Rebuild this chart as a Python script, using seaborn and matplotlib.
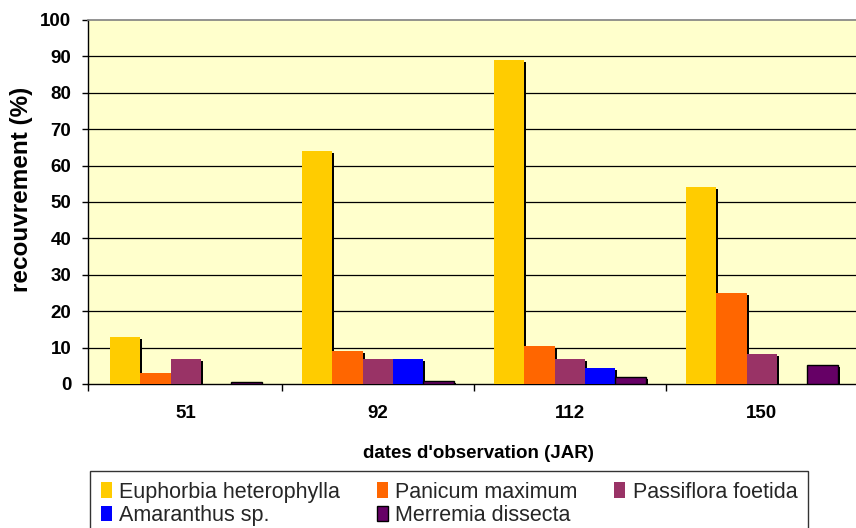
import matplotlib
matplotlib.use("Agg")
import matplotlib.pyplot as plt
from matplotlib.patches import Rectangle, Patch
from matplotlib.transforms import offset_copy
from matplotlib.ticker import FixedLocator, MultipleLocator
import pandas as pd
import seaborn as sns

# Observation dates (days after sowing) and weed cover per species (%)
dates = ["51", "92", "112", "150"]
species = ["Euphorbia heterophylla", "Panicum maximum", "Passiflora foetida",
           "Amaranthus sp.", "Merremia dissecta"]
euphorbia = [13, 64, 89, 54]
panicum = [3, 9, 10.5, 25]
passiflora = [7, 6.8, 6.9, 8.2]
amaranthus = [0, 7, 4.5, 0]
merremia = [0.5, 0.7, 1.8, 5.1]
colors = ["#FFCC00", "#FF6600", "#993366", "#0000FF", "#660066"]

series = [euphorbia, panicum, passiflora, amaranthus, merremia]
df = pd.DataFrame({
    "date": [d for s in series for d in dates],
    "cover": [v for s in series for v in s],
    "species": [sp for sp, s in zip(species, series) for _ in s],
})

sns.set_theme(style="white")
plt.rcParams["font.family"] = ["Liberation Sans", "DejaVu Sans"]

fig = plt.figure(figsize=(8.56, 5.28), dpi=100)
ax = fig.add_axes([88 / 856, 1 - 384 / 528, 768 / 856, 364 / 528])
ax.set_facecolor("#FFFFCC")

sns.barplot(data=df, x="date", y="cover", hue="species", order=dates,
            hue_order=species, palette=dict(zip(species, colors)),
            saturation=1, width=0.79, errorbar=None, legend=False,
            linewidth=0, ax=ax, zorder=3)

# dark outline on the last series
for bar in ax.containers[4]:
    bar.set_edgecolor("black")
    bar.set_linewidth(1.0)

# drop shadows behind every bar
shadow_tr = offset_copy(ax.transData, fig=fig, x=2, y=-2, units="dots")
for cont in ax.containers:
    for bar in cont:
        if bar.get_height() > 0:
            ax.add_patch(Rectangle((bar.get_x(), bar.get_y()), bar.get_width(),
                                   bar.get_height(), facecolor="black",
                                   edgecolor="none", transform=shadow_tr,
                                   zorder=2.5))

ax.set_xlim(-0.51, 3.49)
ax.set_ylim(0, 100)
ax.yaxis.set_major_locator(MultipleLocator(10))
for y in range(10, 100, 10):
    ax.axhline(y, color="black", linewidth=0.9, zorder=1)

# spines
ax.spines["left"].set_color("black")
ax.spines["left"].set_linewidth(1.0)
ax.spines["bottom"].set_color("black")
ax.spines["bottom"].set_linewidth(1.0)
ax.spines["top"].set_color("#808080")
ax.spines["top"].set_linewidth(1.2)
ax.spines["right"].set_visible(False)

# ticks: labels at group centres, tick marks at group boundaries
ax.xaxis.set_minor_locator(FixedLocator([-0.51, 0.5, 1.5, 2.5, 3.5]))
ax.tick_params(axis="x", which="major", length=0, pad=15, labelsize=13.5)
ax.tick_params(axis="x", which="minor", length=5, width=1, color="black",
               direction="out", bottom=True)
ax.tick_params(axis="y", which="major", length=4.5, width=1, color="black",
               direction="out", left=True, pad=7.5, labelsize=13.5)
for lab in ax.get_xticklabels() + ax.get_yticklabels():
    lab.set_fontweight("bold")
    lab.set_color("black")

ax.set_xlabel("dates d'observation (JAR)", fontsize=13.5, fontweight="bold",
              color="black", va="center")
ax.xaxis.set_label_coords(0.508, -0.19)
ax.set_ylabel("recouvrement (%)", fontsize=17.5, fontweight="bold",
              color="black", va="center")
ax.yaxis.set_label_coords(-0.087, 0.535)

# legend in row order beneath the chart
handles = [Patch(facecolor=c, edgecolor=("black" if i == 4 else "none"),
                 linewidth=1.0) for i, c in enumerate(colors)]
order = [0, 3, 1, 4, 2]
leg = fig.legend([handles[i] for i in order], [species[i] for i in order],
                 loc="upper left", ncol=3, mode="expand",
                 bbox_to_anchor=(90 / 856, 0, 718 / 856, 1 - 471 / 528),
                 fontsize=15.5, frameon=True, fancybox=False, shadow=False,
                 handlelength=0.5, handleheight=0.75, handletextpad=0.35,
                 labelspacing=0.1, borderpad=0.5, borderaxespad=0,
                 columnspacing=1.0)
leg.get_frame().set_edgecolor("black")
leg.get_frame().set_linewidth(1.0)
leg.get_frame().set_facecolor("white")

fig.savefig("out.png", dpi=100)
